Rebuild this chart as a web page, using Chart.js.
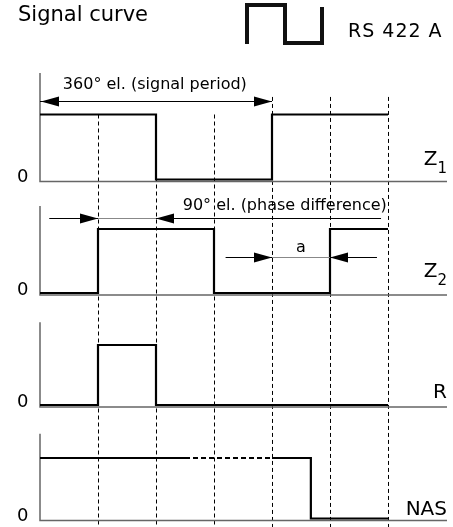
<!doctype html>
<html>
<head>
  <meta charset="utf-8">
  <title>Signal curve RS 422 A</title>
  <script src="https://cdn.jsdelivr.net/npm/chart.js@4.4.1/dist/chart.umd.min.js"></script>
  <style>
    html,body{margin:0;padding:0;background:#fff;}
    #wrap{position:relative;width:453px;height:527px;}
  </style>
</head>
<body>
<div id="wrap"><canvas id="sig"></canvas></div>

<script>
// signal levels (x in units of 90° el.), value = level after the edge at x
const Z1_X  = [0, 2, 4, 6];
const Z1_Y  = [1, 0, 1, 1];
const Z2_X  = [0, 1, 3, 5, 6];
const Z2_Y  = [0, 1, 0, 1, 1];
const R_X   = [0, 1, 2, 6];
const R_Y   = [0, 1, 0, 0];
const NAS_X = [0, 2.5, 4, 4.67, 6];
const NAS_Y = [1, 1, 1, 0, 0];
const NAS_DASHED_FROM = 2.5;            // stretch 2.5..4 drawn dashed

const SIGNAL_NAMES = [['Z', '1'], ['Z', '2'], ['R', ''], ['NAS', '']];
const ZERO_LABEL = '0';
const GUIDE_X   = [1, 2, 3, 4, 5, 6];
const GUIDE_TOP = [1, 1, 1, 1.27, 1.27, 1.27];   // in Z1 units
const X_MAX = 7;

const TITLE = 'Signal curve';
const STANDARD = 'RS 422 A';
const PERIOD_TEXT = '360° el. (signal period)';
const PHASE_TEXT  = '90° el. (phase difference)';
const GAP_TEXT    = 'a';

// ---- panel layout (pixels of the signal low / high level) ----
const H = 527;
const PANELS = [
  {id:'y1', low:179.5, high:114.5, axisTop:1.64, label:0.22},
  {id:'y2', low:293,   high:229,   axisTop:1.36, label:0.25},
  {id:'y3', low:405,   high:345,   axisTop:1.38, label:0.12},
  {id:'y4', low:518.5, high:458,   axisTop:1.40, label:0.06}
];
const AXIS_DROP = 2;
const FONT = '"DejaVu Sans", sans-serif';

function panelScale(p){
  const u = p.low - p.high;
  return {type:'linear', display:false, min:-(H - p.low)/u, max:p.low/u};
}

const pts = (xs, ys) => xs.map((x, i) => ({x, y: ys[i]}));

function arrowHead(ctx, tipX, y, dir){       // dir +1 = points right
  ctx.beginPath();
  ctx.moveTo(tipX, y);
  ctx.lineTo(tipX - dir*18, y - 5);
  ctx.lineTo(tipX - dir*18, y + 5);
  ctx.closePath();
  ctx.fill();
}
function hline(ctx, x0, x1, y, color){
  ctx.strokeStyle = color;
  ctx.beginPath(); ctx.moveTo(x0, y); ctx.lineTo(x1, y); ctx.stroke();
}

const decor = {
  id: 'decor',
  beforeDatasetsDraw(chart){
    const {ctx} = chart, x = chart.scales.x, y1 = chart.scales.y1;
    ctx.save();
    // dashed guides
    ctx.setLineDash([4, 3]);
    ctx.lineWidth = 1;
    ctx.strokeStyle = '#000';
    GUIDE_X.forEach((g, i) => {
      const px = Math.round(x.getPixelForValue(g)) + 0.5;
      ctx.beginPath();
      ctx.moveTo(px, y1.getPixelForValue(GUIDE_TOP[i]));
      ctx.lineTo(px, chart.height);
      ctx.stroke();
    });
    ctx.setLineDash([]);
    // axes per panel
    PANELS.forEach((p, i) => {
      const s = chart.scales[p.id];
      const base = s.getPixelForValue(0) + AXIS_DROP;
      const x0 = x.getPixelForValue(0);
      ctx.strokeStyle = '#666';
      ctx.lineWidth = 1.5;
      ctx.beginPath();
      ctx.moveTo(x0, s.getPixelForValue(p.axisTop));
      ctx.lineTo(x0, base);
      ctx.lineTo(x.getPixelForValue(X_MAX) + 1, base);
      ctx.stroke();
      ctx.fillStyle = '#000';
      ctx.font = '18px ' + FONT;
      ctx.textAlign = 'left';
      ctx.textBaseline = 'alphabetic';
      ctx.fillText(ZERO_LABEL, 17, base);
      // signal name
      const [main, sub] = SIGNAL_NAMES[i];
      const ly = s.getPixelForValue(p.label);
      ctx.textAlign = 'right';
      ctx.font = '15px ' + FONT;
      const sw = sub ? ctx.measureText(sub).width : 0;
      if (sub) ctx.fillText(sub, 447, ly + 8);
      ctx.font = '20px ' + FONT;
      ctx.fillText(main, 447 - sw, ly);
    });
    ctx.restore();
  },
  afterDatasetsDraw(chart){
    const {ctx} = chart, x = chart.scales.x, y1 = chart.scales.y1, y2 = chart.scales.y2;
    ctx.save();
    ctx.fillStyle = '#000';
    ctx.lineWidth = 1;
    // 360° arrow
    let ya = Math.round(y1.getPixelForValue(1.21)) + 0.5;
    hline(ctx, x.getPixelForValue(0), x.getPixelForValue(4), ya, '#000');
    arrowHead(ctx, x.getPixelForValue(0) + 1, ya, -1);
    arrowHead(ctx, x.getPixelForValue(4), ya, 1);
    ctx.font = '16px ' + FONT;
    ctx.textAlign = 'center';
    ctx.textBaseline = 'alphabetic';
    ctx.fillText(PERIOD_TEXT, x.getPixelForValue(1.98), y1.getPixelForValue(1.39));
    // 90° arrow
    ya = Math.round(y2.getPixelForValue(1.17)) + 0.5;
    hline(ctx, x.getPixelForValue(0.16), x.getPixelForValue(1), ya, '#000');
    hline(ctx, x.getPixelForValue(1), x.getPixelForValue(2), ya, '#888');
    hline(ctx, x.getPixelForValue(2), x.getPixelForValue(5.88), ya, '#000');
    arrowHead(ctx, x.getPixelForValue(1), ya, 1);
    arrowHead(ctx, x.getPixelForValue(2), ya, -1);
    ctx.fillText(PHASE_TEXT, x.getPixelForValue(4.22), y2.getPixelForValue(1.30));
    // gap a
    ya = Math.round(y2.getPixelForValue(0.56)) + 0.5;
    hline(ctx, x.getPixelForValue(3.2), x.getPixelForValue(4), ya, '#000');
    hline(ctx, x.getPixelForValue(4), x.getPixelForValue(5), ya, '#888');
    hline(ctx, x.getPixelForValue(5), x.getPixelForValue(5.81), ya, '#000');
    arrowHead(ctx, x.getPixelForValue(4), ya, 1);
    arrowHead(ctx, x.getPixelForValue(5), ya, -1);
    ctx.fillText(GAP_TEXT, x.getPixelForValue(4.5), y2.getPixelForValue(0.64));
    // header
    ctx.textAlign = 'left';
    ctx.font = '21px ' + FONT;
    ctx.fillText(TITLE, 18, 21);
    ctx.font = '19px ' + FONT;
    ctx.letterSpacing = '1px';
    ctx.fillText(STANDARD, 348, 37);
    ctx.letterSpacing = '0px';
    // little square-wave icon
    ctx.strokeStyle = '#111';
    ctx.lineWidth = 4;
    ctx.lineJoin = 'miter';
    ctx.beginPath();
    ctx.moveTo(247, 44); ctx.lineTo(247, 5); ctx.lineTo(285, 5);
    ctx.lineTo(285, 43); ctx.lineTo(322, 43); ctx.lineTo(322, 7);
    ctx.stroke();
    ctx.restore();
  }
};

const lineStyle = {borderColor:'#000', borderWidth:2.2, stepped:true, pointRadius:0, fill:false};

new Chart(document.getElementById('sig'), {
  type: 'line',
  data: {
    datasets: [
      {...lineStyle, label:'Z1', data:pts(Z1_X, Z1_Y), yAxisID:'y1'},
      {...lineStyle, label:'Z2', data:pts(Z2_X, Z2_Y), yAxisID:'y2'},
      {...lineStyle, label:'R',  data:pts(R_X, R_Y),   yAxisID:'y3'},
      {...lineStyle, label:'NAS', data:pts(NAS_X, NAS_Y), yAxisID:'y4',
        segment:{borderDash: c => c.p0.parsed.x === NAS_DASHED_FROM ? [5, 3] : undefined}}
    ]
  },
  options: {
    responsive: true,
    maintainAspectRatio: false,
    animation: false,
    layout: {padding:{left:40, right:7, top:0, bottom:0}, autoPadding:false},
    plugins: {legend:{display:false}, tooltip:{enabled:false}},
    scales: {
      x: {type:'linear', display:false, min:0, max:X_MAX},
      y1: panelScale(PANELS[0]),
      y2: panelScale(PANELS[1]),
      y3: panelScale(PANELS[2]),
      y4: panelScale(PANELS[3])
    }
  },
  plugins: [decor]
});
</script>
</body>
</html>
